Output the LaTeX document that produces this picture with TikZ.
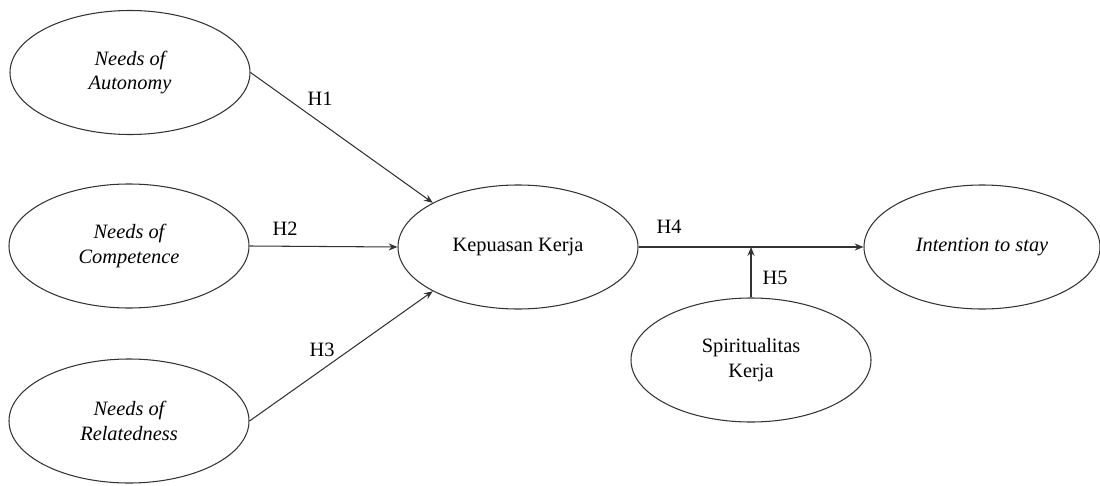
\documentclass[tikz,border=0pt]{standalone}
\usepackage{fontspec}
\setmainfont{Liberation Serif}
\usetikzlibrary{shapes.geometric,arrows.meta}
\tikzset{
  konstrukt/.style={draw=black!80,line width=0.6pt,ellipse,inner sep=0pt,
    minimum width=4.8cm,minimum height=2.48cm,align=center,
    font=\fontsize{11.6}{14.2}\selectfont},
  pfeil/.style={draw=black!80,line width=0.6pt,-{Stealth[length=5pt,width=4pt]}},
  hlabel/.style={font=\fontsize{11.6}{14.2}\selectfont}
}
\begin{document}
\begin{tikzpicture}
       \useasboundingbox (0,0) rectangle (22,-9.7);
       % Variabel
       \node[konstrukt] (auto) at (2.6,-1.45) {\itshape Needs of\\\itshape Autonomy};
       \node[konstrukt] (comp) at (2.58,-4.92) {\itshape Needs of\\\itshape Competence};
       \node[konstrukt] (rel) at (2.58,-8.42) {\itshape Needs of\\\itshape Relatedness};
       \node[konstrukt] (kep) at (10.36,-4.94) {Kepuasan Kerja};
       \node[konstrukt,minimum width=4.72cm] (int) at (19.64,-4.94) {\itshape Intention to stay};
       \node[konstrukt] (spir) at (15.02,-7.2) {Spiritualitas\\Kerja};
       % Hipotesis
       \draw[pfeil] (auto.east) -- (kep.north west);
       \draw[pfeil] (comp.east) -- (kep.west);
       \draw[pfeil] (rel.east) -- (kep.south west);
       \draw[pfeil] (kep.east) -- (int.west);
       \coordinate (mod) at (spir.north |- kep.east);
       \draw[pfeil] (spir.north) -- (mod);
       \node[hlabel] (h1) at (6.4,-1.98) {H1};
       \node[hlabel] (h2) at (5.7,-4.58) {H2};
       \node[hlabel] (h3) at (6.44,-7.0) {H3};
       \node[hlabel] (h4) at (13.38,-4.54) {H4};
       \node[hlabel] (h5) at (15.5,-5.56) {H5};
     \end{tikzpicture}
\end{document}
